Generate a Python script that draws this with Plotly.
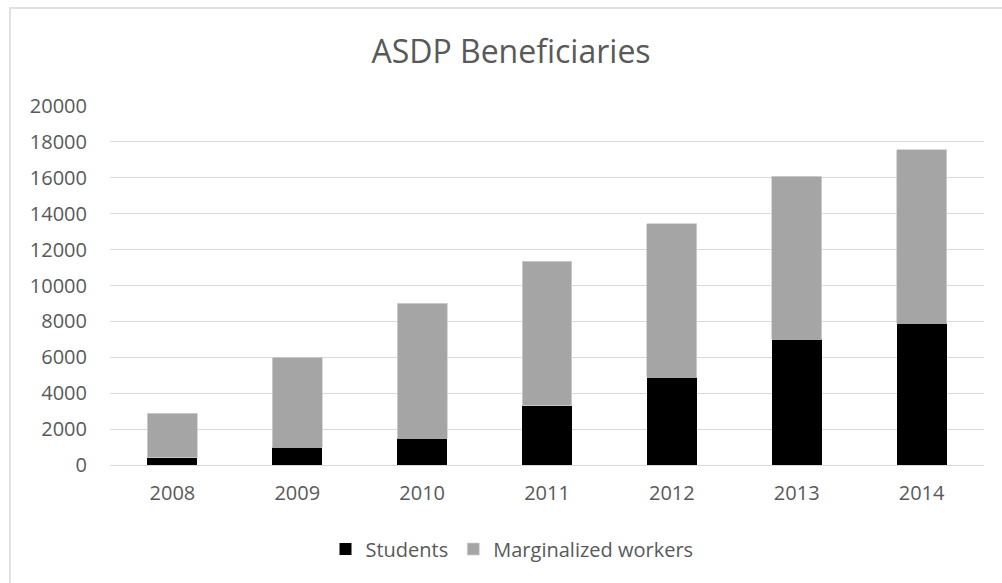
import plotly.graph_objects as go

years = ["2008", "2009", "2010", "2011", "2012", "2013", "2014"]
students = [400, 1000, 1500, 3300, 4900, 7000, 7900]
marginalized = [2480, 5000, 7500, 8050, 8550, 9100, 9650]
y_ticks = [0, 2000, 4000, 6000, 8000, 10000, 12000, 14000, 16000, 18000, 20000]

W, H = 1002, 583
L, R, T, B = 110, 18, 106, 118
PW, PH = W - L - R, H - T - B

def px_x(p):
    return (p - L) / PW

def px_y(p):
    return (H - B - p) / PH

TEXT = "#595959"
FONT = "Open Sans"

fig = go.Figure()
fig.add_trace(go.Bar(name="Students", x=years, y=students,
                     marker=dict(color="#000000", line=dict(width=0))))
fig.add_trace(go.Bar(name="Marginalized workers", x=years, y=marginalized,
                     marker=dict(color="#A5A5A5", line=dict(color="#D0D0D0", width=0.8))))

fig.update_layout(
    width=W, height=H,
    margin=dict(l=L, r=R, t=T, b=B, pad=0),
    paper_bgcolor="white", plot_bgcolor="white",
    barmode="stack", bargap=0.6,
    font=dict(family=FONT, color=TEXT, size=20),
    title=dict(text="ASDP Beneficiaries", font=dict(size=32, color=TEXT, family=FONT),
               xref="container", x=511 / W, xanchor="center",
               yref="container", y=1 - 52 / H, yanchor="middle"),
    showlegend=True,
    legend=dict(orientation="h", xref="container", yref="container",
                x=512 / W, xanchor="center", y=1 - 549 / H, yanchor="middle",
                font=dict(size=20, color=TEXT, family=FONT),
                traceorder="normal", itemwidth=30,
                bgcolor="rgba(0,0,0,0)"),
    xaxis=dict(showgrid=False, showline=False, ticks="", zeroline=False,
               tickfont=dict(size=20, color=TEXT), ticklabelstandoff=14),
    yaxis=dict(range=[0, 20000], tickvals=y_ticks, ticktext=[str(v) for v in y_ticks],
               showgrid=True, gridcolor="#D9D9D9", gridwidth=1.3,
               zeroline=True, zerolinecolor="#D9D9D9", zerolinewidth=1.3,
               showline=False, ticks="", tickfont=dict(size=20, color=TEXT),
               ticklabelstandoff=22),
    shapes=[dict(type="rect", xref="paper", yref="paper",
                 x0=px_x(10), x1=px_x(1015), y0=px_y(595), y1=px_y(8),
                 line=dict(color="#D9D9D9", width=1.5), fillcolor="rgba(0,0,0,0)",
                 layer="below")],
)

fig.write_html("out.html")
